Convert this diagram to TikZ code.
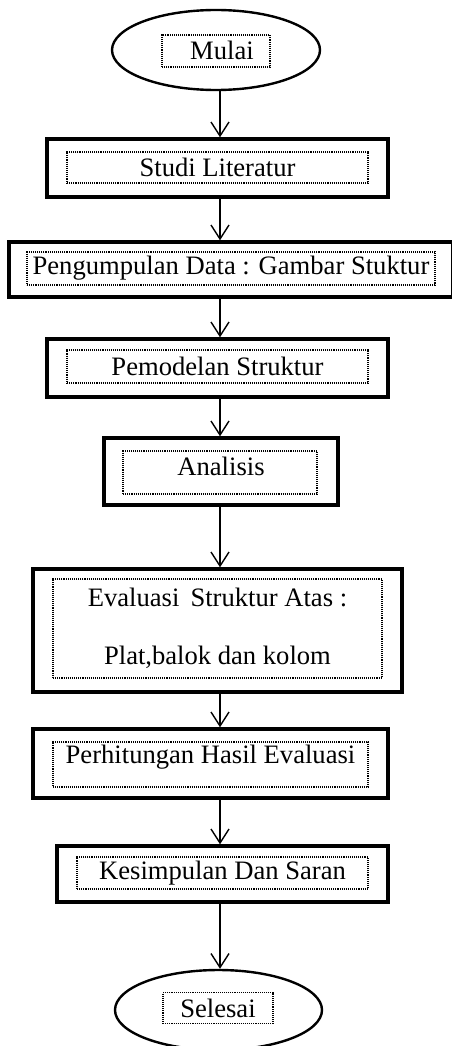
\documentclass[tikz,border=0pt]{standalone}
\usepackage{fontspec}
\setmainfont{Liberation Serif}
\usetikzlibrary{shapes.geometric,arrows.meta}
\begin{document}
\begin{tikzpicture}[x=1pt,y=-1pt,
  outerbox/.style={draw,line width=3.4pt,rectangle,inner sep=0pt},
  oval/.style={draw,line width=2.4pt,ellipse,inner sep=0pt},
  innerbox/.style={draw,densely dotted,line width=1.1pt,rectangle,inner sep=0pt,font=\fontsize{26.6}{30}\selectfont},
  lbl/.style={inner sep=0pt,font=\fontsize{26.6}{30}\selectfont},
  arr/.style={line width=1.4pt,-{Straight Barb[length=14pt,width=18pt,line width=1.4pt]}}]
\useasboundingbox (0,0) rectangle (451,1046);
\coordinate (axis) at (220,0);
% Mulai
\node[oval,minimum width=208,minimum height=80] (mulai) at (216,50) {};
\node[innerbox,minimum width=108,minimum height=32] (mulaiT) at (216,51) {};
\node[lbl] (mulaiL) at (222,50) {Mulai};
% Studi Literatur
\node[outerbox,minimum width=341,minimum height=58] (studi) at (217.5,168) {};
\node[innerbox,minimum width=301,minimum height=31] (studiT) at (217.5,167.5) {Studi Literatur};
% Pengumpulan
\node[outerbox,minimum width=444,minimum height=55] (peng) at (231,269.5) {};
\node[innerbox,minimum width=408,minimum height=33] (pengT) at (231,268.5) {Pengumpulan Data : Gambar Stuktur};
% Pemodelan
\node[outerbox,minimum width=341,minimum height=58] (pemo) at (217.5,368) {};
\node[innerbox,minimum width=301,minimum height=33] (pemoT) at (217.5,366.5) {Pemodelan Struktur};
% Analisis
\node[outerbox,minimum width=234,minimum height=67] (anal) at (221,471.5) {};
\node[innerbox,minimum width=194,minimum height=43] (analT) at (220,472.5) {};
\node[lbl] (analL) at (221,466) {Analisis};
% Evaluasi
\node[outerbox,minimum width=369,minimum height=123] (eval) at (217.5,630.5) {};
\node[innerbox,minimum width=329,minimum height=99] (evalT) at (217.5,628.5) {};
\node[lbl] (evalL1) at (217.5,597) {Evaluasi\, Struktur Atas :};
\node[lbl] (evalL2) at (217.5,657) {Plat,balok dan kolom};
% Perhitungan
\node[outerbox,minimum width=355,minimum height=69] (perh) at (210.5,763.5) {};
\node[innerbox,minimum width=315,minimum height=45] (perhT) at (210.5,764.5) {};
\node[lbl] (perhL) at (210.5,757) {Perhitungan Hasil Evaluasi};
% Kesimpulan
\node[outerbox,minimum width=331,minimum height=56] (kesi) at (222.5,874) {};
\node[innerbox,minimum width=291,minimum height=32] (kesiT) at (222.5,873) {Kesimpulan Dan Saran};
% Selesai
\node[oval,minimum width=207,minimum height=80] (sele) at (218.5,1010) {};
\node[innerbox,minimum width=110,minimum height=31] (seleT) at (218,1008) {Selesai};
% connectors
\draw[arr] (mulai.south -| axis) -- (studi.north -| axis);
\draw[arr] (studi.south -| axis) -- (peng.north -| axis);
\draw[arr] (peng.south -| axis) -- (pemo.north -| axis);
\draw[arr] (pemo.south -| axis) -- (anal.north -| axis);
\draw[arr] (anal.south -| axis) -- (eval.north -| axis);
\draw[arr] (eval.south -| axis) -- (perh.north -| axis);
\draw[arr] (perh.south -| axis) -- (kesi.north -| axis);
\draw[arr] (kesi.south -| axis) -- (sele.north -| axis);
\end{tikzpicture}
\end{document}
